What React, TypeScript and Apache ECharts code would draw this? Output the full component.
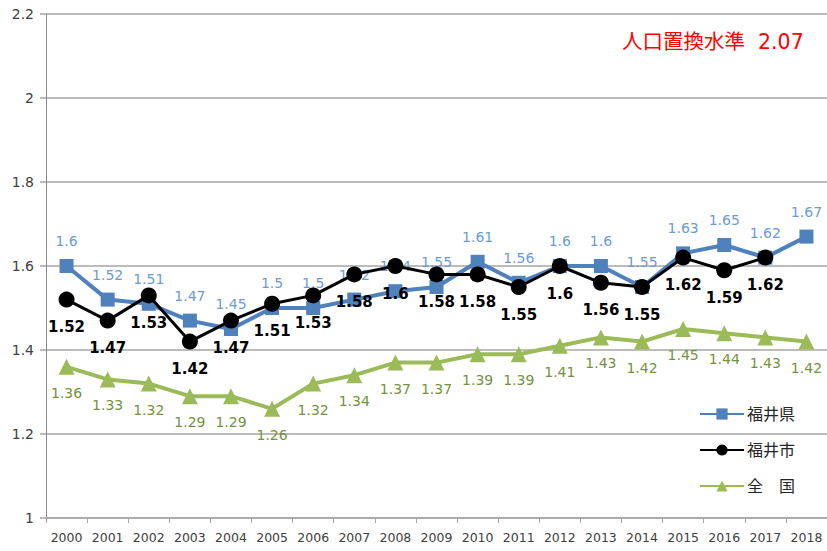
import React, { useEffect, useRef } from "react";
import * as echarts from "echarts";

const years = ["2000","2001","2002","2003","2004","2005","2006","2007","2008","2009","2010","2011","2012","2013","2014","2015","2016","2017","2018"];
const fukuiPref = [1.6, 1.52, 1.51, 1.47, 1.45, 1.5, 1.5, 1.52, 1.54, 1.55, 1.61, 1.56, 1.6, 1.6, 1.55, 1.63, 1.65, 1.62, 1.67];
const fukuiCity = [1.52, 1.47, 1.53, 1.42, 1.47, 1.51, 1.53, 1.58, 1.6, 1.58, 1.58, 1.55, 1.6, 1.56, 1.55, 1.62, 1.59, 1.62, null];
const national = [1.36, 1.33, 1.32, 1.29, 1.29, 1.26, 1.32, 1.34, 1.37, 1.37, 1.39, 1.39, 1.41, 1.43, 1.42, 1.45, 1.44, 1.43, 1.42];
const seriesNames = ["福井県", "福井市", "全　国"];
const noteText = "人口置換水準  2.07";

const FONT = "'DejaVu Sans', 'Noto Sans CJK JP', sans-serif";

export default function App() {
  const ref = useRef<HTMLDivElement>(null);
  useEffect(() => {
    const chart = echarts.init(ref.current!, null, { renderer: "svg" });
    chart.setOption({
      animation: false,
      backgroundColor: "#ffffff",
      textStyle: { fontFamily: FONT },
      grid: { left: 46, top: 14, width: 784, height: 504 },
      xAxis: {
        type: "category",
        data: years,
        boundaryGap: true,
        axisLine: { lineStyle: { color: "#a6a6a6", width: 1.5 } },
        axisTick: { show: true, length: 5, interval: 0, lineStyle: { color: "#a6a6a6" } },
        axisLabel: { color: "#404040", fontSize: 12.5, margin: 13, interval: 0, fontFamily: FONT },
      },
      yAxis: {
        type: "value",
        min: 1,
        max: 2.2,
        interval: 0.2,
        axisLine: { show: true, lineStyle: { color: "#8c8c8c", width: 1 } },
        axisTick: { show: true, length: 6, lineStyle: { color: "#a6a6a6", width: 1.5 } },
        axisLabel: {
          color: "#404040",
          fontSize: 14,
          margin: 12,
          fontFamily: FONT,
          formatter: (v: number) => String(Math.round(v * 10) / 10),
        },
        splitLine: { lineStyle: { color: "#a6a6a6", width: 1.5 } },
      },
      legend: {
        orient: "vertical",
        left: 694,
        top: 401,
        itemGap: 20,
        itemWidth: 44,
        itemHeight: 14,
        textStyle: { color: "#262626", fontSize: 16, fontFamily: FONT, padding: [0, 0, 0, -2] },
        data: seriesNames,
      },
      graphic: [
        {
          type: "text",
          left: 622,
          top: 32,
          style: { text: noteText, fill: "#ff0000", fontSize: 20.5, fontFamily: FONT },
        },
      ],
      series: [
        {
          name: seriesNames[2],
          type: "line",
          data: national,
          z: 1,
          symbol: "triangle",
          symbolSize: 16,
          itemStyle: { color: "#9bbb59" },
          lineStyle: { color: "#9bbb59", width: 4 },
          label: {
            show: true,
            position: "bottom",
            distance: 11,
            color: "#76923c",
            fontSize: 14,
            fontFamily: FONT,
          },
        },
        {
          name: seriesNames[0],
          type: "line",
          data: fukuiPref,
          z: 2,
          symbol: "rect",
          symbolSize: 14,
          itemStyle: { color: "#4f81bd" },
          lineStyle: { color: "#4f81bd", width: 4 },
          label: {
            show: true,
            position: "top",
            distance: 11,
            color: "#6b9bd8",
            fontSize: 14,
            fontFamily: FONT,
          },
        },
        {
          name: seriesNames[1],
          type: "line",
          data: fukuiCity,
          z: 3,
          symbol: "circle",
          symbolSize: 16,
          itemStyle: { color: "#000000" },
          lineStyle: { color: "#000000", width: 3 },
          label: {
            show: true,
            position: "bottom",
            distance: 12,
            color: "#000000",
            fontSize: 15,
            fontWeight: "bold",
            fontFamily: FONT,
          },
        },
      ],
    });
    return () => chart.dispose();
  }, []);
  return (
    <div
      ref={ref}
      style={{ position: "fixed", left: 0, top: 0, width: 827, height: 551 }}
    />
  );
}
